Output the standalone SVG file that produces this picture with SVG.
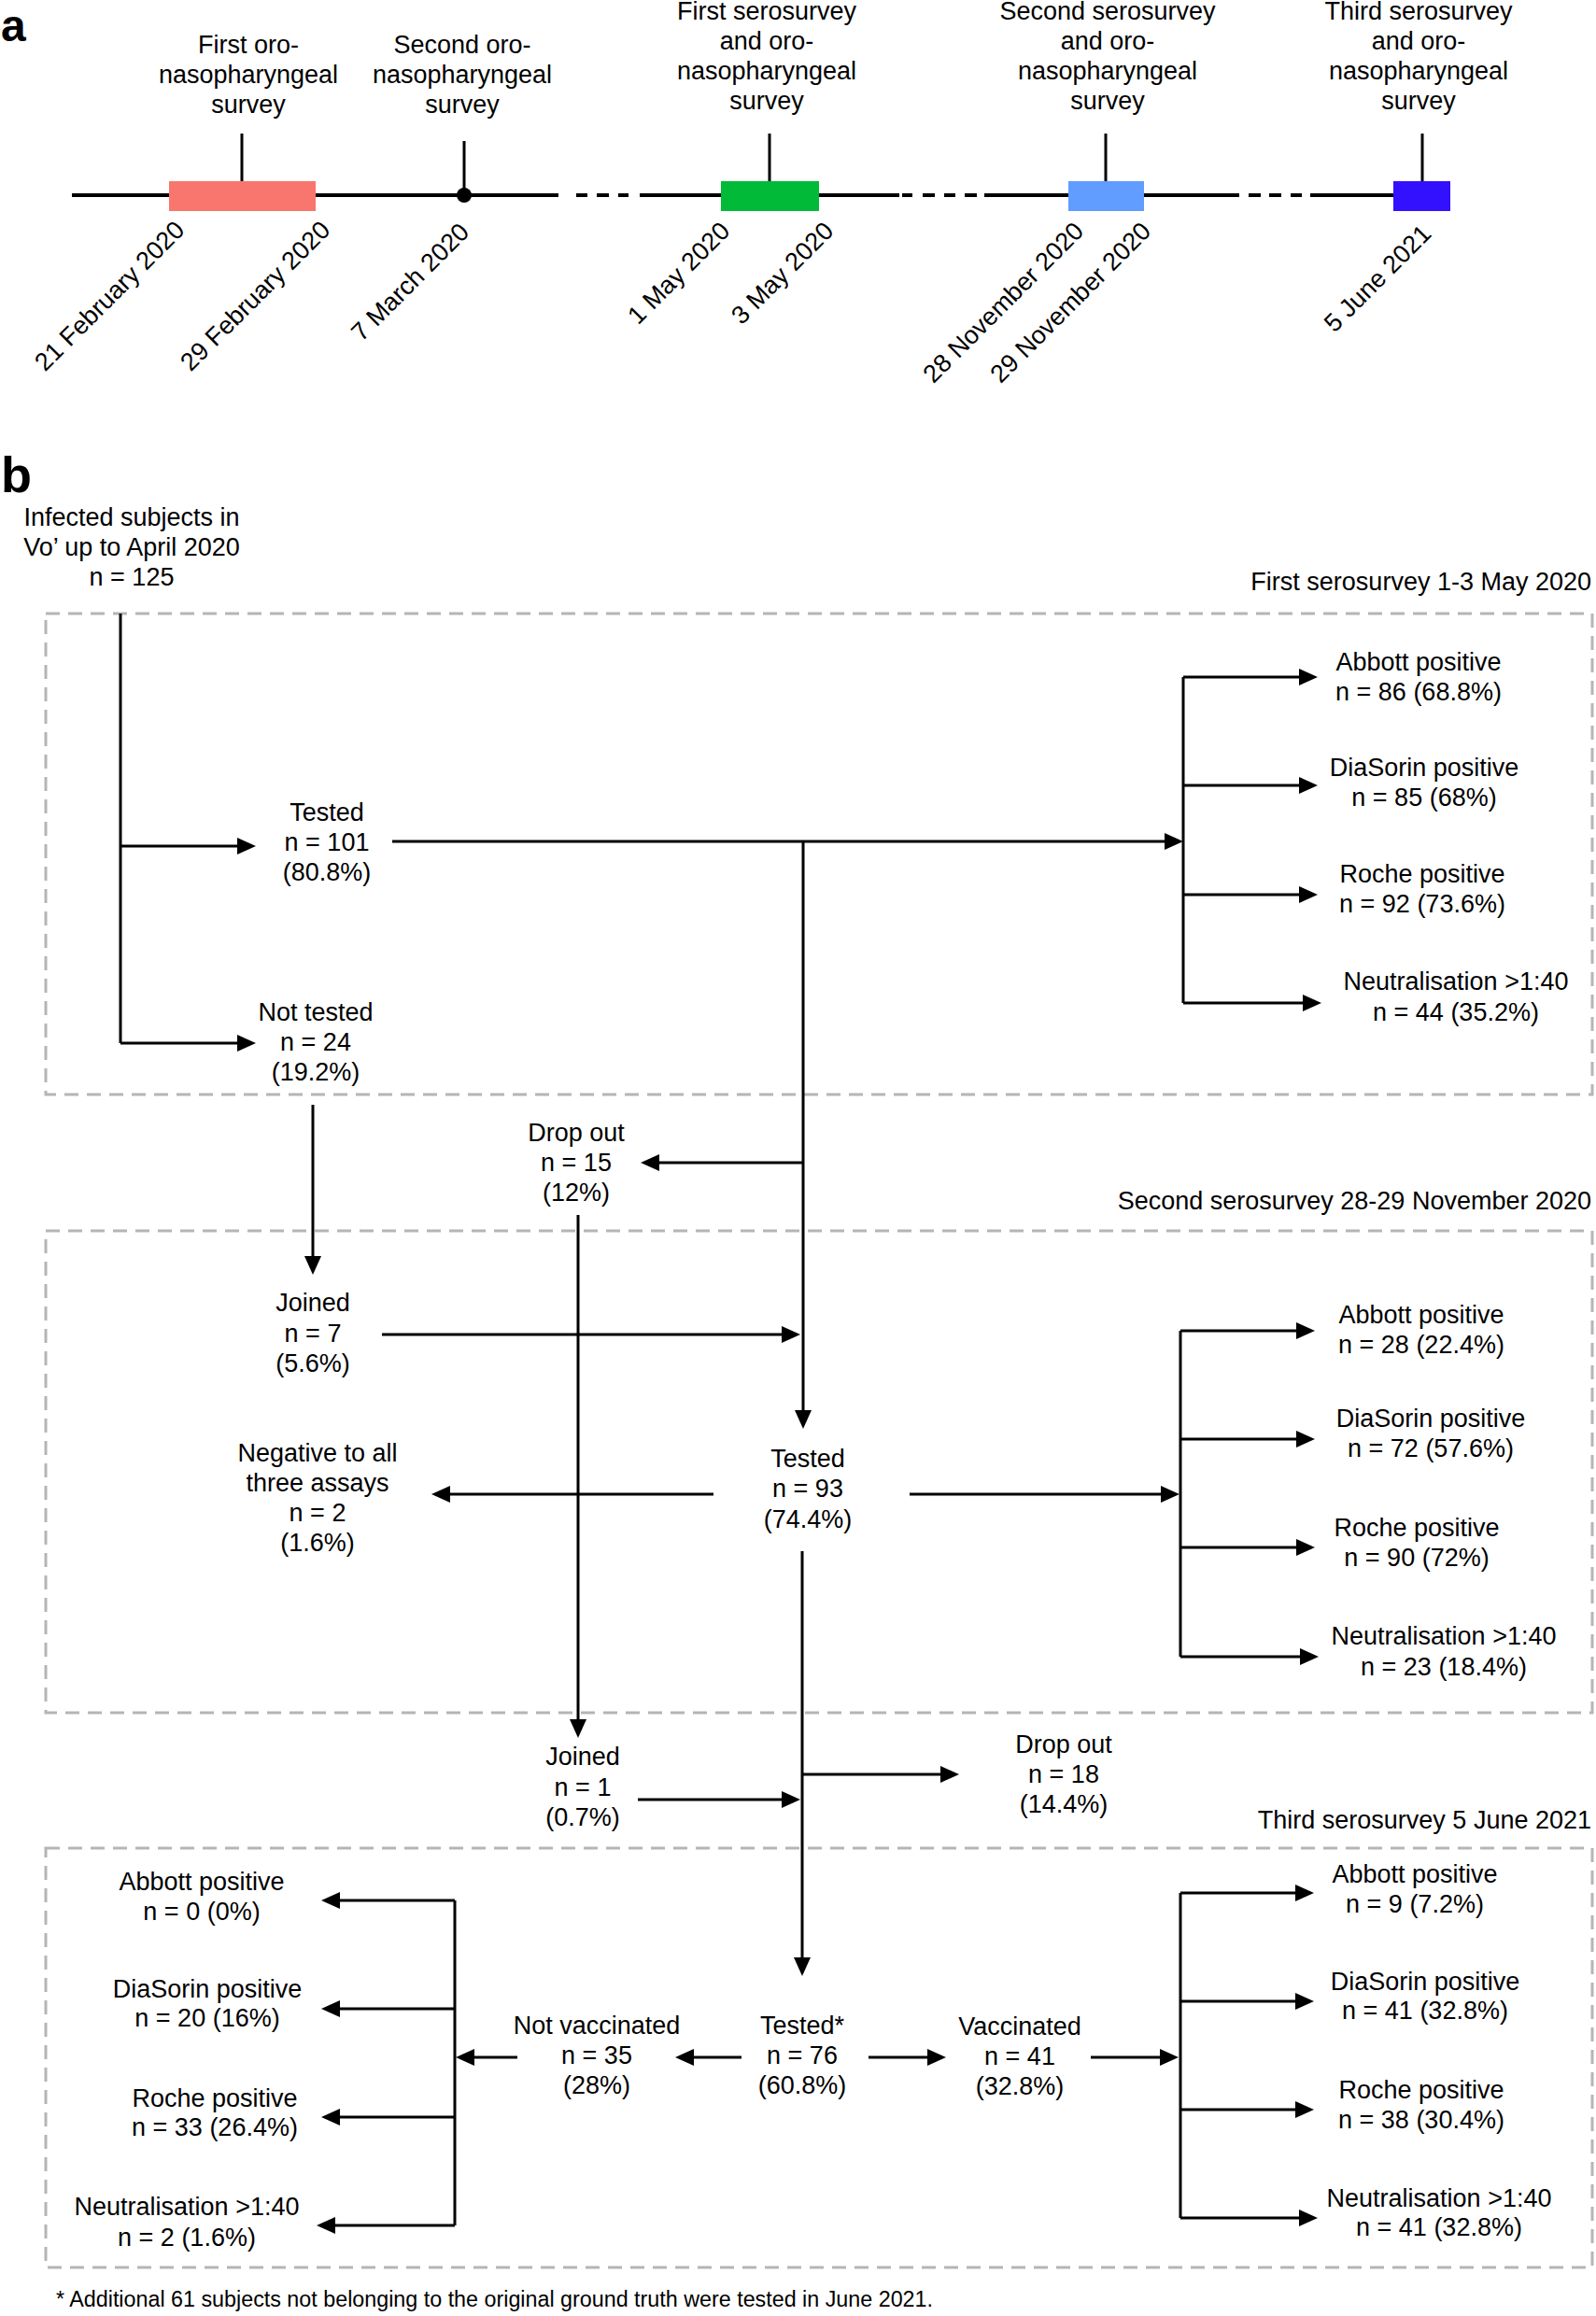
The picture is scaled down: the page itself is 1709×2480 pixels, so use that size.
<svg xmlns="http://www.w3.org/2000/svg" width="1709" height="2480" viewBox="0 0 1709 2480">
<style>
text{font-family:"Liberation Sans",Arial,sans-serif;font-size:27px;fill:#000}
.c{text-anchor:middle}
.e{text-anchor:end}
.panel{font-weight:bold;font-size:48px}
.pb{font-weight:bold;font-size:54px}
.foot{font-size:23.3px}
.ln{stroke:#000;stroke-width:3;fill:none}
.tl{stroke:#000;stroke-width:4;fill:none}
.ar{stroke:#000;stroke-width:3;fill:none;marker-end:url(#ah)}
.box{fill:none;stroke:#B5B5B5;stroke-width:3;stroke-dasharray:15 9}
</style>
<defs>
<marker id="ah" markerUnits="userSpaceOnUse" markerWidth="20" markerHeight="18" refX="10" refY="9" orient="auto">
<path d="M0,0 L20,9 L0,18 z" fill="#000"/>
</marker>
</defs>
<rect width="1709" height="2480" fill="#fff"/>

<!-- Panel a: timeline -->
<text class="panel" x="1" y="44">a</text>
<g id="timeline">
<path class="tl" d="M77,209 H598 M617,209 H629 M639,209 H652 M662,209 H673 M685,209 H773 M877,209 H963 M966,209 H977 M988,209 H1001 M1011,209 H1023 M1033,209 H1046 M1054,209 H1144 M1225,209 H1327 M1337,209 H1350 M1359,209 H1372 M1382,209 H1394 M1403,209 H1492"/>
<path class="ln" d="M259,143 V194 M497,151 V209 M824,143 V194 M1184,143 V194 M1523,143 V194"/>
<circle cx="497" cy="209" r="8" fill="#000"/>
<rect x="181" y="194" width="157" height="32" fill="#F8766D"/>
<rect x="772" y="194" width="105" height="32" fill="#00BA38"/>
<rect x="1144" y="194" width="81" height="32" fill="#619CFF"/>
<rect x="1492" y="194" width="61" height="32" fill="#3311FF"/>
</g>
<g id="survey-labels">
<text class="c"><tspan x="266" y="57">First oro-</tspan><tspan x="266" y="89">nasopharyngeal</tspan><tspan x="266" y="121">survey</tspan></text>
<text class="c"><tspan x="495" y="57">Second oro-</tspan><tspan x="495" y="89">nasopharyngeal</tspan><tspan x="495" y="121">survey</tspan></text>
<text class="c"><tspan x="821" y="21">First serosurvey</tspan><tspan x="821" y="53">and oro-</tspan><tspan x="821" y="85">nasopharyngeal</tspan><tspan x="821" y="117">survey</tspan></text>
<text class="c"><tspan x="1186" y="21">Second serosurvey</tspan><tspan x="1186" y="53">and oro-</tspan><tspan x="1186" y="85">nasopharyngeal</tspan><tspan x="1186" y="117">survey</tspan></text>
<text class="c"><tspan x="1519" y="21">Third serosurvey</tspan><tspan x="1519" y="53">and oro-</tspan><tspan x="1519" y="85">nasopharyngeal</tspan><tspan x="1519" y="117">survey</tspan></text>
</g>
<g id="dates">
<text class="e" transform="translate(199,248) rotate(-45)">21 February 2020</text>
<text class="e" transform="translate(355,248) rotate(-45)">29 February 2020</text>
<text class="e" transform="translate(504,250) rotate(-45)">7 March 2020</text>
<text class="e" transform="translate(783,249) rotate(-45)">1 May 2020</text>
<text class="e" transform="translate(894,249) rotate(-45)">3 May 2020</text>
<text class="e" transform="translate(1162,249) rotate(-45)">28 November 2020</text>
<text class="e" transform="translate(1234,249) rotate(-45)">29 November 2020</text>
<text class="e" transform="translate(1534,252) rotate(-45)">5 June 2021</text>
</g>

<!-- Panel b -->
<text class="pb" x="1" y="527">b</text>
<g id="boxes">
<rect class="box" x="49" y="657" width="1656" height="515"/>
<rect class="box" x="49" y="1318" width="1656" height="516"/>
<rect class="box" x="49" y="1979" width="1656" height="449"/>
<text class="e" x="1704" y="632">First serosurvey 1-3 May 2020</text>
<text class="e" x="1704" y="1295">Second serosurvey 28-29 November 2020</text>
<text class="e" x="1704" y="1958">Third serosurvey 5 June 2021</text>
</g>

<g id="connectors">
<path class="ln" d="M129,657 V1117"/>
<path class="ar" d="M129,906 H264"/>
<path class="ar" d="M129,1117 H264"/>
<path class="ar" d="M420,901 H1257"/>
<path class="ln" d="M1267,725 V1074"/>
<path class="ar" d="M1267,725 H1401"/>
<path class="ar" d="M1267,841 H1401"/>
<path class="ar" d="M1267,958 H1401"/>
<path class="ar" d="M1267,1074 H1405"/>
<path class="ar" d="M860,901 V1520"/>
<path class="ar" d="M860,1245 H696"/>
<path class="ar" d="M619,1301 V1851"/>
<path class="ar" d="M335,1183 V1355"/>
<path class="ar" d="M409,1429 H847"/>
<path class="ar" d="M764,1600 H472"/>
<path class="ar" d="M974,1600 H1253"/>
<path class="ln" d="M1264,1425 V1774"/>
<path class="ar" d="M1264,1425 H1398"/>
<path class="ar" d="M1264,1541 H1398"/>
<path class="ar" d="M1264,1657 H1398"/>
<path class="ar" d="M1264,1774 H1402"/>
<path class="ar" d="M859,1661 V2106"/>
<path class="ar" d="M859,1900 H1017"/>
<path class="ar" d="M683,1927 H847"/>
<path class="ar" d="M930,2203 H1003"/>
<path class="ar" d="M794,2203 H733"/>
<path class="ar" d="M1168,2203 H1252"/>
<path class="ln" d="M1264,2027 V2375"/>
<path class="ar" d="M1264,2027 H1397"/>
<path class="ar" d="M1264,2143 H1397"/>
<path class="ar" d="M1264,2259 H1397"/>
<path class="ar" d="M1264,2375 H1401"/>
<path class="ar" d="M554,2203 H498"/>
<path class="ln" d="M487,2035 V2383"/>
<path class="ar" d="M487,2035 H354"/>
<path class="ar" d="M487,2151 H354"/>
<path class="ar" d="M487,2267 H354"/>
<path class="ar" d="M487,2383 H349"/>
</g>

<g id="infected"><text class="c"><tspan x="141" y="563">Infected subjects in</tspan><tspan x="141" y="595">Vo’ up to April 2020</tspan><tspan x="141" y="627">n = 125</tspan></text></g>
<g id="tested1"><text class="c"><tspan x="350" y="879">Tested</tspan><tspan x="350" y="911">n = 101</tspan><tspan x="350" y="943">(80.8%)</tspan></text></g>
<g id="nottested1"><text class="c"><tspan x="338" y="1093">Not tested</tspan><tspan x="338" y="1125">n = 24</tspan><tspan x="338" y="1157">(19.2%)</tspan></text></g>
<g id="s1-abbott"><text class="c"><tspan x="1519" y="718">Abbott positive</tspan><tspan x="1519" y="750">n = 86 (68.8%)</tspan></text></g>
<g id="s1-diasorin"><text class="c"><tspan x="1525" y="831">DiaSorin positive</tspan><tspan x="1525" y="863">n = 85 (68%)</tspan></text></g>
<g id="s1-roche"><text class="c"><tspan x="1523" y="945">Roche positive</tspan><tspan x="1523" y="977">n = 92 (73.6%)</tspan></text></g>
<g id="s1-neut"><text class="c"><tspan x="1559" y="1060">Neutralisation &gt;1:40</tspan><tspan x="1559" y="1093">n = 44 (35.2%)</tspan></text></g>
<g id="dropout1"><text class="c"><tspan x="617" y="1222">Drop out</tspan><tspan x="617" y="1254">n = 15</tspan><tspan x="617" y="1286">(12%)</tspan></text></g>
<g id="joined1"><text class="c"><tspan x="335" y="1404">Joined</tspan><tspan x="335" y="1437">n = 7</tspan><tspan x="335" y="1469">(5.6%)</tspan></text></g>
<g id="negative"><text class="c"><tspan x="340" y="1565">Negative to all</tspan><tspan x="340" y="1597">three assays</tspan><tspan x="340" y="1629">n = 2</tspan><tspan x="340" y="1661">(1.6%)</tspan></text></g>
<g id="tested2"><text class="c"><tspan x="865" y="1571">Tested</tspan><tspan x="865" y="1603">n = 93</tspan><tspan x="865" y="1636">(74.4%)</tspan></text></g>
<g id="s2-abbott"><text class="c"><tspan x="1522" y="1417">Abbott positive</tspan><tspan x="1522" y="1449">n = 28 (22.4%)</tspan></text></g>
<g id="s2-diasorin"><text class="c"><tspan x="1532" y="1528">DiaSorin positive</tspan><tspan x="1532" y="1560">n = 72 (57.6%)</tspan></text></g>
<g id="s2-roche"><text class="c"><tspan x="1517" y="1645">Roche positive</tspan><tspan x="1517" y="1677">n = 90 (72%)</tspan></text></g>
<g id="s2-neut"><text class="c"><tspan x="1546" y="1761">Neutralisation &gt;1:40</tspan><tspan x="1546" y="1794">n = 23 (18.4%)</tspan></text></g>
<g id="joined2"><text class="c"><tspan x="624" y="1890">Joined</tspan><tspan x="624" y="1923">n = 1</tspan><tspan x="624" y="1955">(0.7%)</tspan></text></g>
<g id="dropout2"><text class="c"><tspan x="1139" y="1877">Drop out</tspan><tspan x="1139" y="1909">n = 18</tspan><tspan x="1139" y="1941">(14.4%)</tspan></text></g>
<g id="tested3"><text class="c"><tspan x="859" y="2178">Tested*</tspan><tspan x="859" y="2210">n = 76</tspan><tspan x="859" y="2242">(60.8%)</tspan></text></g>
<g id="vaccinated"><text class="c"><tspan x="1092" y="2179">Vaccinated</tspan><tspan x="1092" y="2211">n = 41</tspan><tspan x="1092" y="2243">(32.8%)</tspan></text></g>
<g id="notvaccinated"><text class="c"><tspan x="639" y="2178">Not vaccinated</tspan><tspan x="639" y="2210">n = 35</tspan><tspan x="639" y="2242">(28%)</tspan></text></g>
<g id="s3v-abbott"><text class="c"><tspan x="1515" y="2016">Abbott positive</tspan><tspan x="1515" y="2048">n = 9 (7.2%)</tspan></text></g>
<g id="s3v-diasorin"><text class="c"><tspan x="1526" y="2131">DiaSorin positive</tspan><tspan x="1526" y="2162">n = 41 (32.8%)</tspan></text></g>
<g id="s3v-roche"><text class="c"><tspan x="1522" y="2247">Roche positive</tspan><tspan x="1522" y="2279">n = 38 (30.4%)</tspan></text></g>
<g id="s3v-neut"><text class="c"><tspan x="1541" y="2363">Neutralisation &gt;1:40</tspan><tspan x="1541" y="2394">n = 41 (32.8%)</tspan></text></g>
<g id="s3n-abbott"><text class="c"><tspan x="216" y="2024">Abbott positive</tspan><tspan x="216" y="2056">n = 0 (0%)</tspan></text></g>
<g id="s3n-diasorin"><text class="c"><tspan x="222" y="2139">DiaSorin positive</tspan><tspan x="222" y="2170">n = 20 (16%)</tspan></text></g>
<g id="s3n-roche"><text class="c"><tspan x="230" y="2256">Roche positive</tspan><tspan x="230" y="2287">n = 33 (26.4%)</tspan></text></g>
<g id="s3n-neut"><text class="c"><tspan x="200" y="2372">Neutralisation &gt;1:40</tspan><tspan x="200" y="2405">n = 2 (1.6%)</tspan></text></g>

<text class="foot" x="60" y="2470">* Additional 61 subjects not belonging to the original ground truth were tested in June 2021.</text>
</svg>
